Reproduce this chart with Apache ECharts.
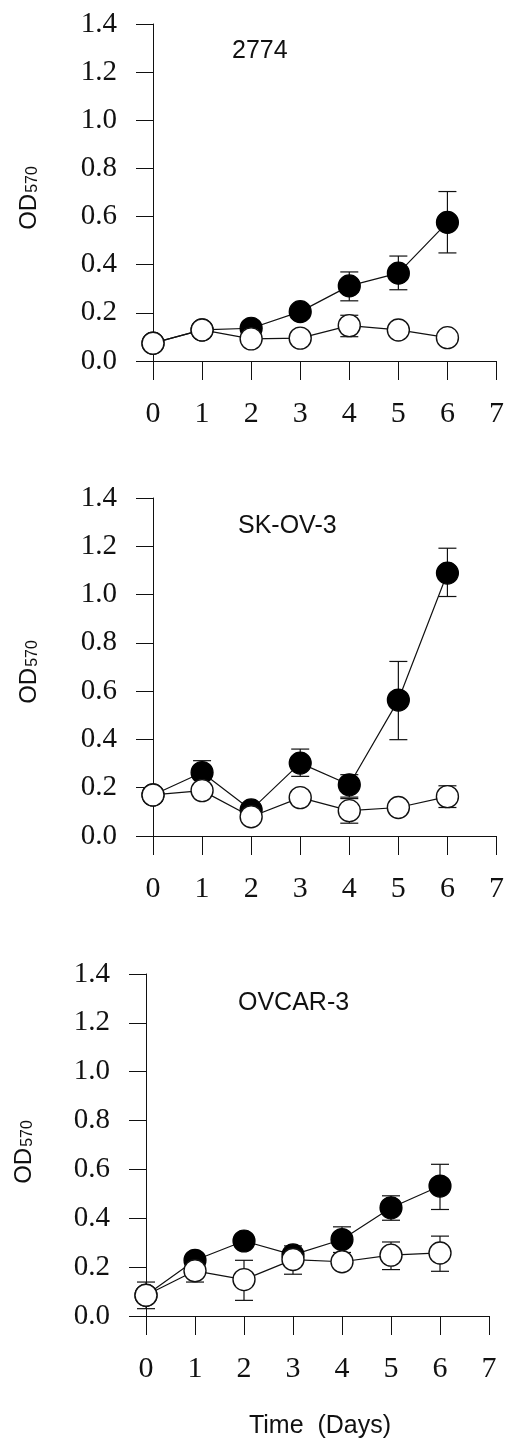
<!DOCTYPE html>
<html>
<head>
<meta charset="utf-8">
<script src="https://cdn.jsdelivr.net/npm/echarts@6/dist/echarts.min.js"></script>
<style>
html,body{margin:0;padding:0;background:#fff;}
#chart{width:507px;height:1443px;}
</style>
</head>
<body>
<div id="chart"></div>
<script>
// ---- data ----
const days = [0, 1, 2, 3, 4, 5, 6];
const xTicks = [0, 1, 2, 3, 4, 5, 6, 7];
const yTicks = [0.0, 0.2, 0.4, 0.6, 0.8, 1.0, 1.2, 1.4];
const panelTitles = ["2774", "SK-OV-3", "OVCAR-3"];

// Panel 1: 2774
const p1Filled   = [0.074, 0.129, 0.136, 0.205, 0.312, 0.365, 0.576];
const p1FilledHi = [null, null, null, null, 0.370, 0.436, 0.704];
const p1FilledLo = [null, null, null, null, 0.250, 0.296, 0.449];
const p1Open     = [0.074, 0.129, 0.092, 0.095, 0.147, 0.129, 0.097];
const p1OpenHi   = [null, null, null, null, 0.190, null, null];
const p1OpenLo   = [null, null, null, null, 0.101, null, null];

// Panel 2: SK-OV-3
const p2Filled   = [0.170, 0.263, 0.108, 0.302, 0.212, 0.563, 1.089];
const p2FilledHi = [null, 0.312, null, 0.360, 0.254, 0.723, 1.192];
const p2FilledLo = [null, 0.214, null, 0.247, 0.161, 0.399, 0.992];
const p2Open     = [0.170, 0.188, 0.080, 0.159, 0.105, 0.118, 0.163];
const p2OpenHi   = [null, null, null, null, 0.155, null, 0.208];
const p2OpenLo   = [null, null, null, null, 0.053, null, 0.118];

// Panel 3: OVCAR-3
const p3Filled   = [0.085, 0.228, 0.307, 0.250, 0.313, 0.443, 0.532];
const p3FilledHi = [null, null, null, 0.287, 0.365, 0.492, 0.621];
const p3FilledLo = [null, null, null, 0.213, 0.260, 0.392, 0.436];
const p3Open     = [0.085, 0.185, 0.149, 0.231, 0.222, 0.249, 0.258];
const p3OpenHi   = [0.139, 0.230, 0.228, 0.270, null, 0.303, 0.327];
const p3OpenLo   = [0.030, 0.139, 0.064, 0.171, null, 0.190, 0.183];

const panels = [
  {filled: p1Filled, fHi: p1FilledHi, fLo: p1FilledLo, open: p1Open, oHi: p1OpenHi, oLo: p1OpenLo},
  {filled: p2Filled, fHi: p2FilledHi, fLo: p2FilledLo, open: p2Open, oHi: p2OpenHi, oLo: p2OpenLo},
  {filled: p3Filled, fHi: p3FilledHi, fLo: p3FilledLo, open: p3Open, oHi: p3OpenHi, oLo: p3OpenLo}
];

// ---- layout ----
const grids = [
  {left: 153, top: 24, width: 344, height: 337},
  {left: 153, top: 498, width: 344, height: 338},
  {left: 146, top: 974, width: 343, height: 342}
];
const titlePos = [{x: 232, y: 51}, {x: 238, y: 526}, {x: 238, y: 1003}];
const odPos = [{x: 29, y: 198}, {x: 29, y: 672}, {x: 24, y: 1152}];

const INK = '#111';
const serif = "'Liberation Serif', 'Times New Roman', serif";
const sans = "'Liberation Sans', Arial, sans-serif";

function errRender(params, api) {
  const x = api.value(0), hi = api.value(1), lo = api.value(2);
  const a = api.coord([x, hi]);
  const b = api.coord([x, lo]);
  const w = 9;
  const st = {stroke: INK, lineWidth: 1.2, fill: null};
  return {
    type: 'group',
    children: [
      {type: 'line', shape: {x1: a[0], y1: a[1], x2: b[0], y2: b[1]}, style: st},
      {type: 'line', shape: {x1: a[0] - w, y1: a[1], x2: a[0] + w, y2: a[1]}, style: st},
      {type: 'line', shape: {x1: b[0] - w, y1: b[1], x2: b[0] + w, y2: b[1]}, style: st}
    ]
  };
}

function errData(vals, hi, lo) {
  const out = [];
  days.forEach((d, i) => {
    if (hi[i] != null || lo[i] != null) {
      out.push([d, hi[i] != null ? hi[i] : vals[i], lo[i] != null ? lo[i] : vals[i]]);
    }
  });
  return out;
}

const gridOpt = [], xAxes = [], yAxes = [], series = [], graphics = [];

panels.forEach((p, k) => {
  gridOpt.push(Object.assign({containLabel: false}, grids[k]));
  xAxes.push({
    type: 'value', gridIndex: k, min: xTicks[0], max: xTicks[xTicks.length - 1], interval: 1,
    axisLine: {show: true, onZero: false, lineStyle: {color: INK, width: 1}},
    axisTick: {show: true, inside: false, length: 19, lineStyle: {color: INK, width: 1}},
    splitLine: {show: false},
    axisLabel: {fontFamily: serif, fontSize: 30, color: INK, margin: 38}
  });
  yAxes.push({
    type: 'value', gridIndex: k, min: yTicks[0], max: yTicks[yTicks.length - 1], interval: 0.2,
    axisLine: {show: true, onZero: false, lineStyle: {color: INK, width: 1}},
    axisTick: {show: true, inside: false, length: 17, lineStyle: {color: INK, width: 1}},
    splitLine: {show: false},
    axisLabel: {fontFamily: serif, fontSize: 29, color: INK, margin: 36,
      formatter: v => v.toFixed(1)}
  });
  series.push({
    type: 'custom', xAxisIndex: k, yAxisIndex: k, z: 1,
    renderItem: errRender, encode: {x: 0, y: [1, 2]},
    data: errData(p.filled, p.fHi, p.fLo).concat(errData(p.open, p.oHi, p.oLo)),
    silent: true
  });
  series.push({
    type: 'line', xAxisIndex: k, yAxisIndex: k, z: 2,
    data: days.map((d, i) => [d, p.filled[i]]),
    symbol: 'circle', symbolSize: 22, showAllSymbol: true,
    lineStyle: {color: INK, width: 1.2},
    itemStyle: {color: '#000', borderColor: '#000', borderWidth: 1.2}
  });
  series.push({
    type: 'line', xAxisIndex: k, yAxisIndex: k, z: 3,
    data: days.map((d, i) => [d, p.open[i]]),
    symbol: 'circle', symbolSize: 22, showAllSymbol: true,
    lineStyle: {color: INK, width: 1.2},
    itemStyle: {color: '#fff', borderColor: INK, borderWidth: 1.4}
  });
  graphics.push({
    type: 'text', x: titlePos[k].x, y: titlePos[k].y,
    style: {text: panelTitles[k], font: "25px " + sans, fill: INK,
      textAlign: 'left', textVerticalAlign: 'middle'}
  });
  graphics.push({
    type: 'text', x: odPos[k].x, y: odPos[k].y, rotation: Math.PI / 2,
    style: {
      text: '{a|OD}{b|570}', textAlign: 'center', textVerticalAlign: 'middle',
      rich: {
        a: {fontFamily: sans, fontSize: 24, fill: INK, color: INK},
        b: {fontFamily: sans, fontSize: 16, fill: INK, color: INK, verticalAlign: 'bottom', padding: [0, 0, 0, 1]}
      }
    }
  });
});

graphics.push({
  type: 'text', x: 320, y: 1426,
  style: {text: 'Time  (Days)', font: "25px " + sans, fill: INK,
    textAlign: 'center', textVerticalAlign: 'middle'}
});

const chart = echarts.init(document.getElementById('chart'), null, {renderer: 'canvas'});
chart.setOption({
  animation: false,
  backgroundColor: '#fff',
  grid: gridOpt,
  xAxis: xAxes,
  yAxis: yAxes,
  series: series,
  graphic: graphics
});
</script>
</body>
</html>
